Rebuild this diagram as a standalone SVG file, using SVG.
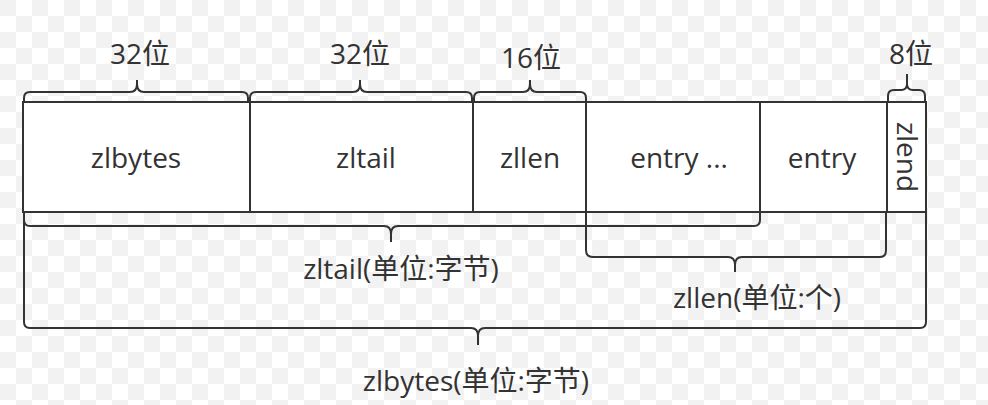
<svg xmlns="http://www.w3.org/2000/svg" width="988" height="405" viewBox="0 0 988 405">
<defs>
<pattern id="chk" width="32" height="32" patternUnits="userSpaceOnUse">
<rect width="32" height="32" fill="#ffffff"/>
<rect width="16" height="16" fill="#f2f2f2"/>
<rect x="16" y="16" width="16" height="16" fill="#f2f2f2"/>
</pattern>
</defs>
<style>
.box{fill:#fff;stroke:#333;stroke-width:2}
.br{fill:none;stroke:#333;stroke-width:2}
text{font-family:"Open Sans","Noto Sans","Noto Sans CJK SC",sans-serif;font-size:28px;fill:#333;text-anchor:middle}
</style>
<rect width="988" height="405" fill="url(#chk)"/>
<g id="zlbytes"><rect class="box" x="23" y="102" width="227" height="110"/><text x="136" y="168">zlbytes</text></g>
<g id="zltail"><rect class="box" x="250" y="102" width="223" height="110"/><text x="366" y="168">zltail</text></g>
<g id="zllen"><rect class="box" x="473" y="102" width="113" height="110"/><text x="530" y="168">zllen</text></g>
<g id="entry1"><rect class="box" x="586" y="102" width="174" height="110"/><text x="679" y="168">entry ...</text></g>
<g id="entry2"><rect class="box" x="760" y="102" width="127" height="110"/><text x="822" y="168">entry</text></g>
<g id="zlend"><rect class="box" x="887" y="102" width="39" height="110"/><text transform="translate(897,157) rotate(90)">zlend</text></g>
<g id="connectors">
<path class="br" d="M24,102 V98 Q24,92 30,92 H130 Q137,92 137,84 V80 M137,80 V84 Q137,92 144,92 H242 Q248,92 248,98 V102"/>
<path class="br" d="M250,102 V98 Q250,92 256,92 H353 Q360,92 360,84 V80 M360,84 Q360,92 367,92 H466 Q472,92 472,98 V102"/>
<path class="br" d="M474,102 V98 Q474,92 480,92 H523 Q530,92 530,84 V80 M530,84 Q530,92 537,92 H580 Q586,92 586,98 V102"/>
<path class="br" d="M888,102 V96 Q888,90 894,90 H901 Q907,90 907,84 V74 M907,84 Q907,90 913,90 H919 Q925,90 925,96 V102"/>
<path class="br" d="M24,212 V220 Q24,226 30,226 H384 Q391,226 391,234 V242 M391,234 Q391,226 398,226 H754 Q760,226 760,220 V212"/>
<path class="br" d="M586,212 V250 Q586,257 593,257 H728 Q735,257 735,265 V272 M735,265 Q735,257 742,257 H880 Q886,257 886,250 V212"/>
<path class="br" d="M24,212 V322 Q24,328 30,328 H471 Q478,328 478,336 V345 M478,336 Q478,328 485,328 H920 Q926,328 926,322 V212"/>
</g>
<text x="140" y="64">32位</text>
<text x="360" y="64">32位</text>
<text x="531" y="68">16位</text>
<text x="911" y="64">8位</text>
<text x="401" y="279">zltail(单位:字节)</text>
<text x="757" y="308">zllen(单位:个)</text>
<text x="476" y="391">zlbytes(单位:字节)</text>
</svg>
